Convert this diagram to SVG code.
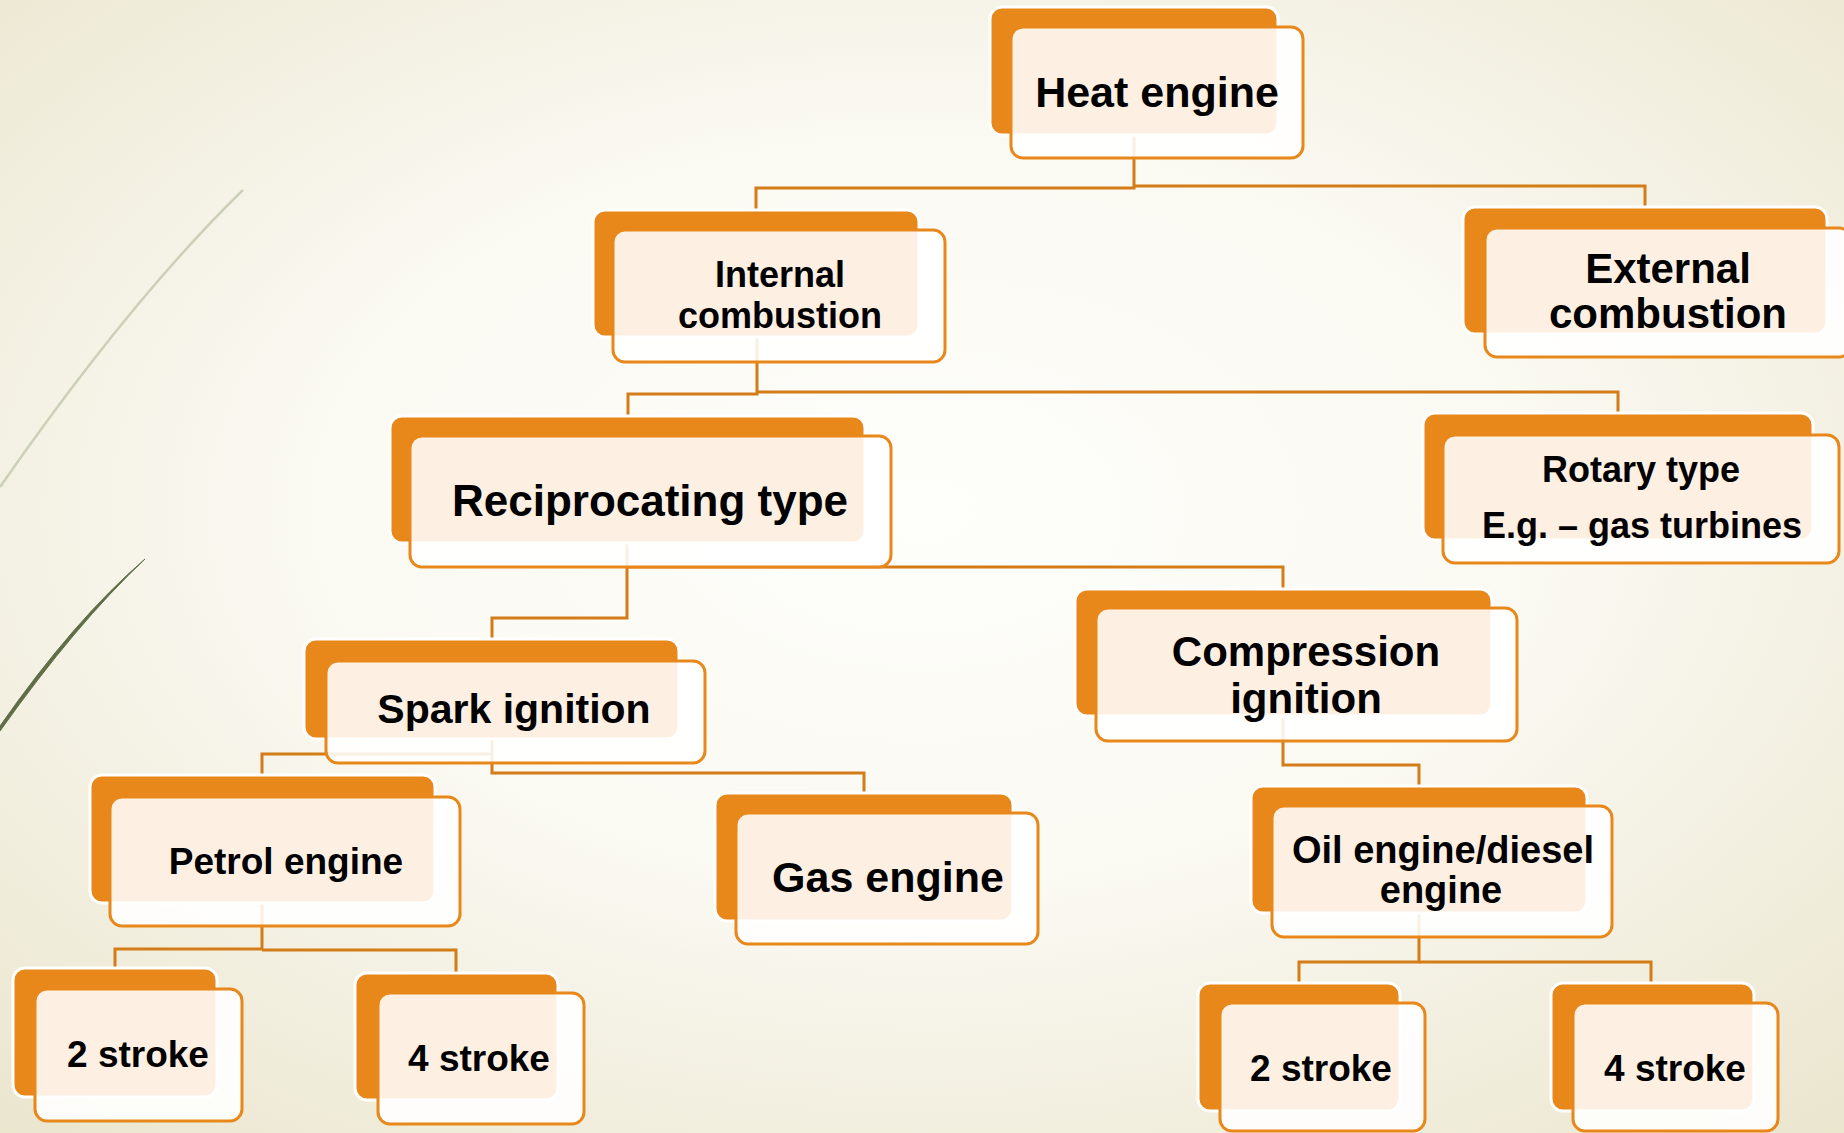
<svg xmlns="http://www.w3.org/2000/svg" width="1844" height="1133" viewBox="0 0 1844 1133">
<defs>
<radialGradient id="bg" cx="0.5" cy="0.45" r="0.75">
<stop offset="0" stop-color="#FEFEFB"/>
<stop offset="0.45" stop-color="#FAF9F2"/>
<stop offset="1" stop-color="#EAE5CD"/>
</radialGradient>
<style>
.back{fill:#E8871A;stroke:#FFFFFF;stroke-width:3}
.front{fill:#FFFFFF;fill-opacity:0.88;stroke:#E8871A;stroke-width:3}
.conn{fill:none;stroke:#D47D18;stroke-width:3}
text{font-family:"Liberation Sans",Arial,sans-serif;font-weight:bold;fill:#000000;text-anchor:middle}
</style>
</defs>
<rect x="0" y="0" width="1844" height="1133" fill="url(#bg)"/>
<g id="decor">
<path d="M243,190 Q130,300 0,487" fill="none" stroke="#CDD0B8" stroke-width="2.5"/>
<path d="M145,559 Q74,620 0,726 L0,731 Q76,624 145,559 Z" fill="#5F6E47" stroke="#5F6E47" stroke-width="1"/>
</g>
<g id="connectors">
<path class="conn" d="M1134,135 V188 H756 V210"/>
<path class="conn" d="M1134,186 H1645 V207"/>
<path class="conn" d="M757,337 V394 H628 V416"/>
<path class="conn" d="M757,392 H1618 V413"/>
<path class="conn" d="M627,543 V618 H492 V639"/>
<path class="conn" d="M627,567 H1283 V589"/>
<path class="conn" d="M492,739 V754 H262 V775"/>
<path class="conn" d="M492,754 V773 H864 V793"/>
<path class="conn" d="M1283,716 V765 H1419 V786"/>
<path class="conn" d="M262,903 V949 H115 V968"/>
<path class="conn" d="M262,950 H456 V973"/>
<path class="conn" d="M1419,913 V962 H1299 V983"/>
<path class="conn" d="M1419,962 H1651 V983"/>
</g>
<g id="heat-engine">
<rect class="back" x="990" y="7" width="288" height="128" rx="12"/>
<rect class="front" x="1011" y="27" width="292" height="131" rx="12"/>
<text x="1157" y="107" font-size="43">Heat engine</text>
</g>
<g id="internal-combustion">
<rect class="back" x="593" y="210" width="326" height="127" rx="12"/>
<rect class="front" x="613" y="230" width="332" height="132" rx="12"/>
<text x="780" y="287" font-size="36">Internal</text>
<text x="780" y="328" font-size="36">combustion</text>
</g>
<g id="external-combustion">
<rect class="back" x="1463" y="207" width="364" height="127" rx="12"/>
<rect class="front" x="1485" y="228" width="366" height="129" rx="12"/>
<text x="1668" y="283" font-size="42">External</text>
<text x="1668" y="328" font-size="42">combustion</text>
</g>
<g id="reciprocating-type">
<rect class="back" x="390" y="416" width="475" height="127" rx="12"/>
<rect class="front" x="410" y="436" width="481" height="131" rx="12"/>
<text x="650" y="516" font-size="44">Reciprocating type</text>
</g>
<g id="rotary-type">
<rect class="back" x="1423" y="413" width="390" height="127" rx="12"/>
<rect class="front" x="1443" y="435" width="396" height="128" rx="12"/>
<text x="1641" y="482" font-size="36">Rotary type</text>
<text x="1642" y="538" font-size="36">E.g. – gas turbines</text>
</g>
<g id="spark-ignition">
<rect class="back" x="304" y="639" width="375" height="100" rx="12"/>
<rect class="front" x="326" y="661" width="379" height="102" rx="12"/>
<text x="514" y="723" font-size="41">Spark ignition</text>
</g>
<g id="compression-ignition">
<rect class="back" x="1075" y="589" width="417" height="127" rx="12"/>
<rect class="front" x="1096" y="608" width="421" height="133" rx="12"/>
<text x="1306" y="666" font-size="42">Compression</text>
<text x="1306" y="713" font-size="42">ignition</text>
</g>
<g id="petrol-engine">
<rect class="back" x="90" y="775" width="345" height="128" rx="12"/>
<rect class="front" x="110" y="797" width="350" height="129" rx="12"/>
<text x="286" y="874" font-size="37">Petrol engine</text>
</g>
<g id="gas-engine">
<rect class="back" x="715" y="793" width="298" height="128" rx="12"/>
<rect class="front" x="736" y="813" width="302" height="131" rx="12"/>
<text x="888" y="892" font-size="43">Gas engine</text>
</g>
<g id="oil-diesel-engine">
<rect class="back" x="1251" y="786" width="336" height="127" rx="12"/>
<rect class="front" x="1272" y="806" width="340" height="131" rx="12"/>
<text x="1443" y="863" font-size="38">Oil engine/diesel</text>
<text x="1441" y="903" font-size="38">engine</text>
</g>
<g id="petrol-2-stroke">
<rect class="back" x="13" y="968" width="204" height="129" rx="12"/>
<rect class="front" x="35" y="989" width="207" height="132" rx="12"/>
<text x="138" y="1067" font-size="37">2 stroke</text>
</g>
<g id="petrol-4-stroke">
<rect class="back" x="355" y="973" width="203" height="127" rx="12"/>
<rect class="front" x="378" y="993" width="206" height="131" rx="12"/>
<text x="479" y="1071" font-size="37">4 stroke</text>
</g>
<g id="diesel-2-stroke">
<rect class="back" x="1198" y="983" width="202" height="128" rx="12"/>
<rect class="front" x="1220" y="1003" width="205" height="128" rx="12"/>
<text x="1321" y="1081" font-size="37">2 stroke</text>
</g>
<g id="diesel-4-stroke">
<rect class="back" x="1551" y="983" width="203" height="128" rx="12"/>
<rect class="front" x="1573" y="1003" width="205" height="128" rx="12"/>
<text x="1675" y="1081" font-size="37">4 stroke</text>
</g>
</svg>
